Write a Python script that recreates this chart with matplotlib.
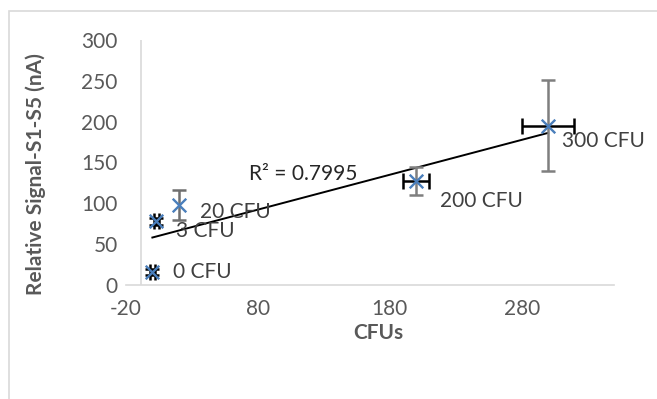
import numpy as np
import matplotlib
matplotlib.use("Agg")
import matplotlib.pyplot as plt
from matplotlib.patches import Rectangle

# data
cfu = [0, 3, 20, 200, 300]
signal = [16, 78, 98, 127, 195]
y_err = [4, 4, 18, 17, 56]
x_err = [2, 2, 0, 10, 20]
labels = ["0 CFU", "3 CFU", "20 CFU", "200 CFU", "300 CFU"]
x_ticks = [-20, 80, 180, 280]
y_ticks = [0, 50, 100, 150, 200, 250, 300]
r2_text = "R² = 0.7995"

plt.rcParams['font.family'] = ['Lato', 'DejaVu Sans']
plt.rcParams['axes.unicode_minus'] = False
W, H = 657, 399
fig = plt.figure(figsize=(W / 100, H / 100), dpi=100)
ax = fig.add_axes([126 / W, 1 - 285 / H, (614 - 126) / W, (285 - 40) / H])

txt = '#595959'
grid = '#d9d9d9'
fs = 15

# outer chart border
fig.patches.append(Rectangle((9 / W, -0.05), 1.2, 1.05 - 11 / H, transform=fig.transFigure,
                             fill=False, edgecolor=grid, linewidth=1.2))

ax.set_xlim(-20, 350)
ax.set_ylim(0, 300)
for s in ['top', 'right', 'left']:
    ax.spines[s].set_visible(False)
ax.spines['bottom'].set_color(grid)
ax.spines['bottom'].set_linewidth(1.2)
ax.axvline(-9, color=grid, linewidth=1.2, zorder=1)

ax.set_xticks(x_ticks)
ax.set_yticks(y_ticks)
ax.tick_params(length=0, labelsize=fs, colors=txt)
ax.tick_params(axis='y', pad=6)
ax.tick_params(axis='x', pad=10)

# trendline
slope, intercept = np.polyfit(cfu, signal, 1)
xs = np.array([min(cfu), max(cfu)])
ax.plot(xs, slope * xs + intercept, color='black', linewidth=1.4, zorder=2)

# error bars
yerr_cols = ['black', 'black', '#6f6f6f', '#7f7f7f', '#7f7f7f']
for i in range(len(cfu)):
    ax.errorbar(cfu[i], signal[i], yerr=y_err[i], fmt='none', ecolor=yerr_cols[i],
                elinewidth=1.8, capsize=5, capthick=1.8, zorder=3)
    if x_err[i] > 0:
        ax.errorbar(cfu[i], signal[i], xerr=x_err[i], fmt='none', ecolor='black',
                    elinewidth=1.8, capsize=6, capthick=1.8, zorder=3)

ax.scatter(cfu, signal, marker='x', s=95, color='#4A7EBB', linewidths=1.7, zorder=4)

offsets = [(15, 0), (14, -7), (15, -5), (17, -14), (10, -11)]
for x, y, lab, off in zip(cfu, signal, labels, offsets):
    ax.annotate(lab, (x, y), xytext=off, textcoords='offset points',
                ha='left', va='center', fontsize=fs, color='#404040')

ax.text(73, 136, r2_text, fontsize=fs, color='#262626', ha='left', va='center')

ax.set_xlabel('CFUs', fontsize=fs, fontweight='bold', color=txt)
ax.set_ylabel('Relative Signal-S1-S5 (nA)', fontsize=fs, fontweight='bold', color=txt)
ax.xaxis.set_label_coords((378 - 126) / 488, -(323 - 285) / 245)
ax.yaxis.set_label_coords((46 - 126) / 488, (285 - 174) / 245)

fig.savefig('out.png', dpi=100)
